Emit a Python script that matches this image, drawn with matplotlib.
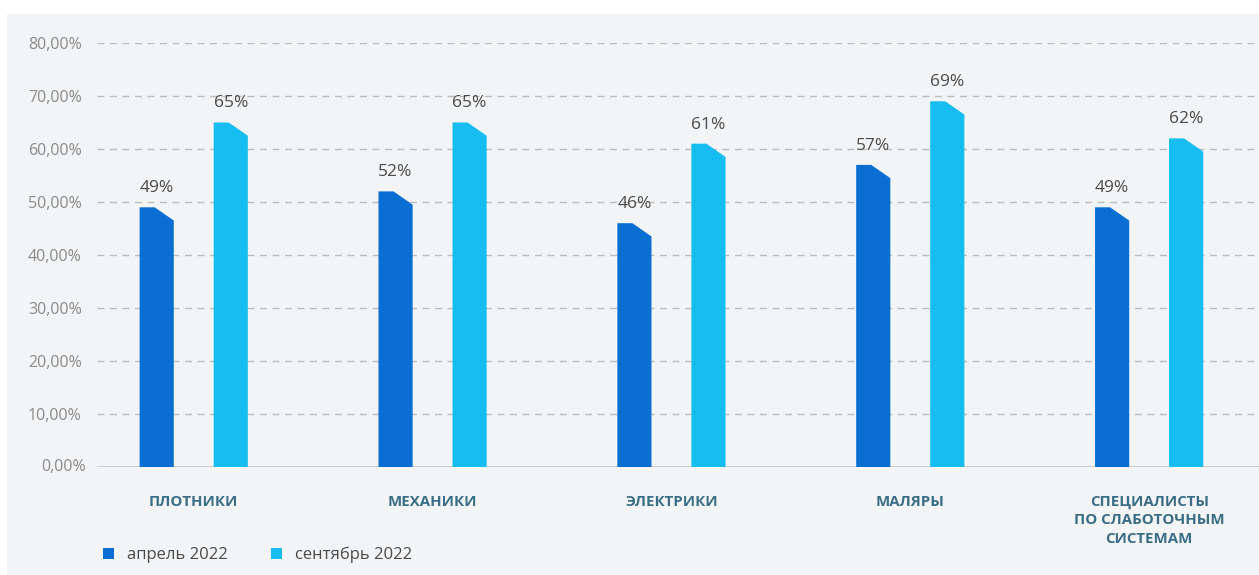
import matplotlib
matplotlib.use("Agg")
import matplotlib.pyplot as plt
from matplotlib.patches import Polygon, Rectangle, Patch
import numpy as np

plt.rcParams['font.family'] = ['Open Sans', 'DejaVu Sans']

categories = ["ПЛОТНИКИ", "МЕХАНИКИ", "ЭЛЕКТРИКИ", "МАЛЯРЫ",
              "СПЕЦИАЛИСТЫ\nПО СЛАБОТОЧНЫМ\nСИСТЕМАМ"]
april = [49, 52, 46, 57, 49]
september = [65, 65, 61, 69, 62]
series_names = ["апрель 2022", "сентябрь 2022"]
yticks = [0, 10, 20, 30, 40, 50, 60, 70, 80]
ytick_labels = ["0,00%", "10,00%", "20,00%", "30,00%", "40,00%",
                "50,00%", "60,00%", "70,00%", "80,00%"]

c_apr = "#0a6fd3"
c_sep = "#15bdf0"
bg = "#f3f4f6"

W, H = 1259, 575
fig = plt.figure(figsize=(W / 100, H / 100), dpi=100)
fig.patch.set_facecolor("white")
fig.patches.append(Rectangle((7 / W, 0), 1 - 7 / W, 1 - 14 / H,
                             transform=fig.transFigure, facecolor=bg,
                             edgecolor="none", zorder=-10))

ax = fig.add_axes([97 / W, 1 - 467 / H, 1 - 97 / W, (467 - 43) / H])
ax.set_facecolor("none")
ax.set_xlim(-0.405, 4.46)
ax.set_ylim(0, 80)

bw = 0.143
off = 0.155
x = np.arange(len(categories))


def chamfer_bar(xc, h, color):
    x0 = xc - bw / 2
    x1 = xc + bw / 2
    xf = x0 + bw * 0.44
    drop = 2.5
    poly = Polygon([(x0, 0), (x0, h), (xf, h), (x1, h - drop), (x1, 0)],
                   closed=True, facecolor=color, edgecolor="none", zorder=3)
    ax.add_patch(poly)
    ax.annotate(f"{h}%", (xc, h), xytext=(0, 8), textcoords="offset points",
                ha="center", va="bottom", fontsize=12.5, color="#4a4a4a",
                fontweight="medium", zorder=4)


for i in range(len(categories)):
    chamfer_bar(x[i] - off, april[i], c_apr)
    chamfer_bar(x[i] + off, september[i], c_sep)

ax.set_yticks(yticks[1:])
ax.set_yticklabels(ytick_labels[1:])
ax.yaxis.grid(True, linestyle=(0, (5, 4)), color="#bdbdbd", linewidth=1.0)
ax.set_axisbelow(True)
ax.tick_params(axis="y", length=0, pad=11, labelsize=11.5, labelcolor="#8a8a8a")
ax.text(-0.405 - 11 / 239, 0, ytick_labels[0], ha="right", va="center",
        fontsize=11.5, color="#8a8a8a", transform=ax.transData, clip_on=False)
ax.axhline(0, color="#c8c8c8", linewidth=1.2, zorder=2)

ax.set_xticks(x)
ax.set_xticklabels(categories, fontsize=10.8, fontweight="bold",
                   color="#3a6d86", linespacing=1.4, va="top")
ax.tick_params(axis="x", length=0, pad=20)
for s in ax.spines.values():
    s.set_visible(False)

handles = [Patch(facecolor=c_apr, edgecolor="none"),
           Patch(facecolor=c_sep, edgecolor="none")]
fig.legend(handles, series_names, loc="center left",
           bbox_to_anchor=(88 / W, 1 - 555 / H), ncol=2, frameon=False,
           fontsize=12, labelcolor="#4a4a4a", handlelength=0.65,
           handleheight=0.65, handletextpad=0.8, columnspacing=2.6)

fig.savefig("out.png", dpi=100, facecolor=fig.get_facecolor())
